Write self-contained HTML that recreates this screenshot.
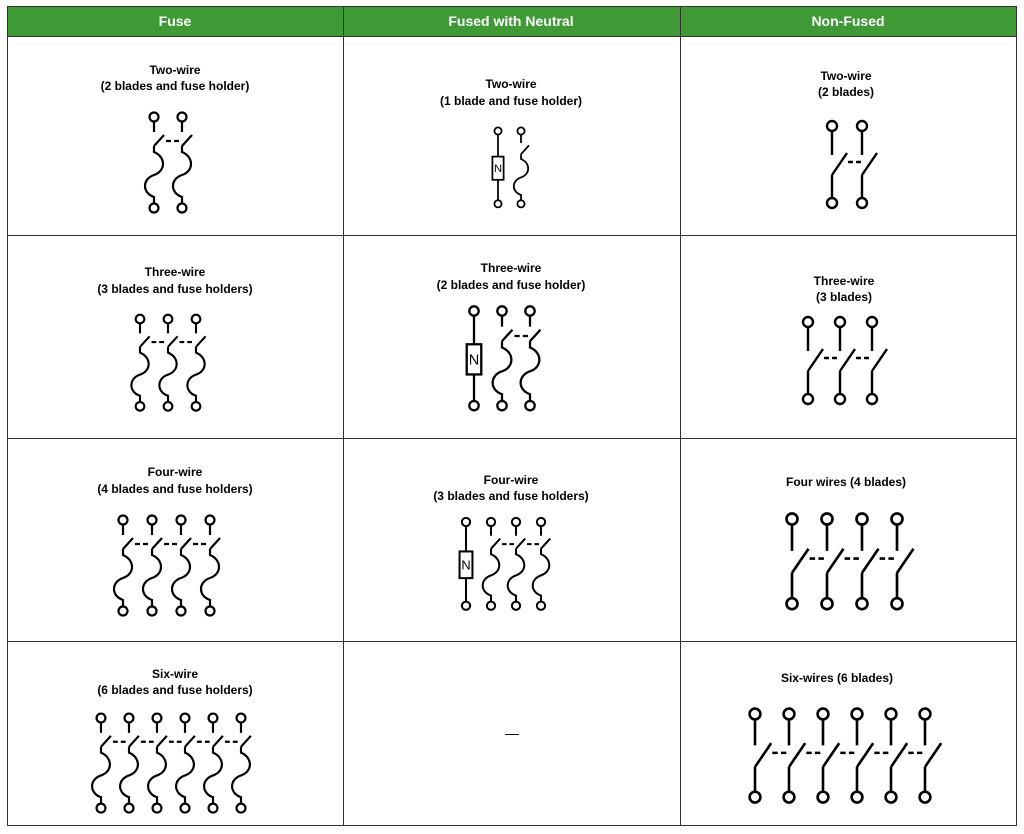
<!DOCTYPE html>
<html><head><meta charset="utf-8"><style>
body{margin:0;background:#fff;}
svg{display:block;font-family:"Liberation Sans",Arial,sans-serif;}
</style></head><body>
<svg width="1024" height="834" viewBox="0 0 1024 834" xmlns="http://www.w3.org/2000/svg">
<defs>
<g id="f" fill="none" stroke="#000" stroke-width="2.2">
<circle cx="0" cy="0" r="4.5"/><path d="M0 4.5V15M0 29L10 18M0 29V35C12 40 12 54 0 58C-12 62-12 76 0 80V86.5"/><circle cx="0" cy="91" r="4.5"/></g>
<g id="fd"><use href="#f"/><path d="M12 24H27" stroke="#000" stroke-width="2.2" stroke-dasharray="5,3"/></g>
<g id="nu"><g fill="none" stroke="#000" stroke-width="2.2">
<circle cx="0" cy="0" r="4.5"/><path d="M0 4.5V32M0 61V86.5"/><rect x="-7" y="32" width="14" height="29"/><circle cx="0" cy="91" r="4.5"/></g>
<text x="0" y="51.5" font-size="14" text-anchor="middle" fill="#000">N</text></g>
<g id="n" fill="none" stroke="#000" stroke-width="2.4">
<circle cx="0" cy="0" r="5"/><path d="M0 5V29M0 49L15 27M0 49V72"/><circle cx="0" cy="77" r="5"/></g>
<g id="nd"><use href="#n"/><path d="M16 36H30" stroke="#000" stroke-width="2.4" stroke-dasharray="5,3"/></g>
</defs>
<rect x="7" y="6" width="1010" height="30" fill="#3f9a36"/>
<g stroke="#333" stroke-width="1" fill="none">
<rect x="7.5" y="6.5" width="1009" height="819"/>
<path d="M343.5 6V826M680.5 6V826M7 36.5H1017M7 235.5H1017M7 438.5H1017M7 641.5H1017"/>
</g>
<g font-size="14" font-weight="bold" fill="#fff" text-anchor="middle">
<text x="175" y="26">Fuse</text><text x="511" y="26">Fused with Neutral</text><text x="848" y="26">Non-Fused</text>
</g>
<g font-size="12" font-weight="bold" fill="#000" text-anchor="middle">
<text x="175" y="74">Two-wire</text><text x="175" y="90">(2 blades and fuse holder)</text>
<text x="511" y="88">Two-wire</text><text x="511" y="105">(1 blade and fuse holder)</text>
<text x="846" y="80">Two-wire</text><text x="846" y="96">(2 blades)</text>
<text x="175" y="276">Three-wire</text><text x="175" y="293">(3 blades and fuse holders)</text>
<text x="511" y="272">Three-wire</text><text x="511" y="289">(2 blades and fuse holder)</text>
<text x="844" y="285">Three-wire</text><text x="844" y="301">(3 blades)</text>
<text x="175" y="476">Four-wire</text><text x="175" y="493">(4 blades and fuse holders)</text>
<text x="511" y="484">Four-wire</text><text x="511" y="500">(3 blades and fuse holders)</text>
<text x="846" y="486">Four wires (4 blades)</text>
<text x="175" y="678">Six-wire</text><text x="175" y="694">(6 blades and fuse holders)</text>
<text x="837" y="682">Six-wires (6 blades)</text>
<text x="512" y="738" font-weight="normal" font-size="14">—</text>
</g>
<g transform="translate(154,117)"><use href="#fd"/></g><g transform="translate(182,117)"><use href="#f"/></g>
<g transform="translate(140,319) scale(0.96)"><use href="#fd"/></g><g transform="translate(168,319) scale(0.96)"><use href="#fd"/></g><g transform="translate(196,319) scale(0.96)"><use href="#f"/></g>
<g transform="translate(123,520)"><use href="#fd"/></g><g transform="translate(152,520)"><use href="#fd"/></g><g transform="translate(181,520)"><use href="#fd"/></g><g transform="translate(210,520)"><use href="#f"/></g>
<g transform="translate(101,718) scale(0.99)"><use href="#fd"/></g><g transform="translate(129,718) scale(0.99)"><use href="#fd"/></g><g transform="translate(157,718) scale(0.99)"><use href="#fd"/></g><g transform="translate(185,718) scale(0.99)"><use href="#fd"/></g><g transform="translate(213,718) scale(0.99)"><use href="#fd"/></g><g transform="translate(241,718) scale(0.99)"><use href="#f"/></g>
<g transform="translate(498,131) scale(0.8)"><use href="#nu"/></g><g transform="translate(521,131) scale(0.8)"><use href="#f"/></g>
<g transform="translate(474,311) scale(1.04)"><use href="#nu"/></g><g transform="translate(502,311) scale(1.04)"><use href="#fd"/></g><g transform="translate(530,311) scale(1.04)"><use href="#f"/></g>
<g transform="translate(466,522) scale(0.92)"><use href="#nu"/></g><g transform="translate(491,522) scale(0.92)"><use href="#fd"/></g><g transform="translate(516,522) scale(0.92)"><use href="#fd"/></g><g transform="translate(541,522) scale(0.92)"><use href="#f"/></g>
<g transform="translate(832,126)"><use href="#nd"/></g><g transform="translate(862,126)"><use href="#n"/></g>
<g transform="translate(808,322)"><use href="#nd"/></g><g transform="translate(840,322)"><use href="#nd"/></g><g transform="translate(872,322)"><use href="#n"/></g>
<g transform="translate(792,519) scale(1.1)"><use href="#nd"/></g><g transform="translate(827,519) scale(1.1)"><use href="#nd"/></g><g transform="translate(862,519) scale(1.1)"><use href="#nd"/></g><g transform="translate(897,519) scale(1.1)"><use href="#n"/></g>
<g transform="translate(755,714) scale(1.08)"><use href="#nd"/></g><g transform="translate(789,714) scale(1.08)"><use href="#nd"/></g><g transform="translate(823,714) scale(1.08)"><use href="#nd"/></g><g transform="translate(857,714) scale(1.08)"><use href="#nd"/></g><g transform="translate(891,714) scale(1.08)"><use href="#nd"/></g><g transform="translate(925,714) scale(1.08)"><use href="#n"/></g>
</svg>
</body></html>
